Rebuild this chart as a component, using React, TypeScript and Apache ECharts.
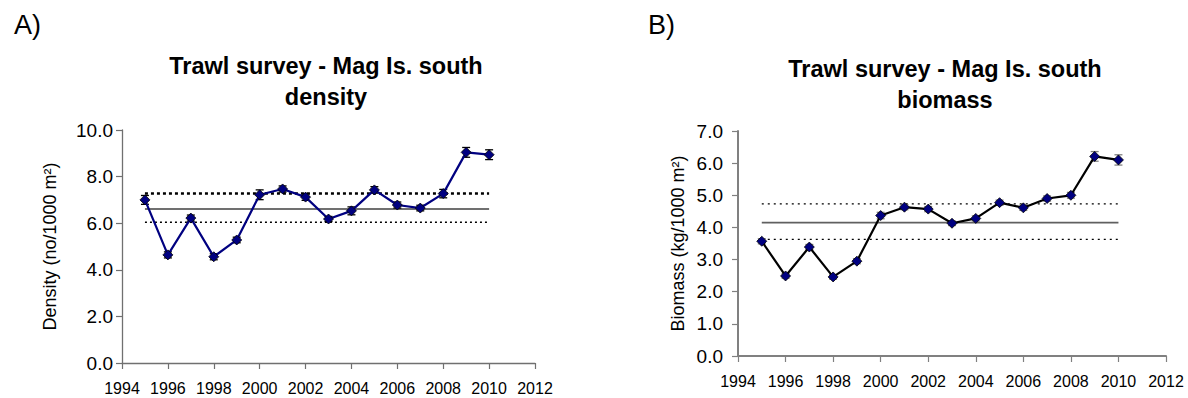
import React, { useEffect, useRef } from "react";
import * as echarts from "echarts";

const years = [1995, 1996, 1997, 1998, 1999, 2000, 2001, 2002, 2003, 2004, 2005, 2006, 2007, 2008, 2009, 2010];
const density = [7.0, 4.64, 6.22, 4.56, 5.28, 7.22, 7.47, 7.12, 6.18, 6.53, 7.43, 6.78, 6.65, 7.27, 9.04, 8.94];
const densityErr = [0.19, 0.13, 0.13, 0.13, 0.12, 0.21, 0.13, 0.14, 0.11, 0.17, 0.14, 0.13, 0.12, 0.18, 0.21, 0.21];
const biomass = [3.57, 2.49, 3.39, 2.46, 2.95, 4.37, 4.63, 4.57, 4.13, 4.28, 4.77, 4.61, 4.9, 5.0, 6.21, 6.1];
const biomassErr = [0.08, 0.07, 0.08, 0.07, 0.08, 0.1, 0.08, 0.08, 0.07, 0.08, 0.08, 0.08, 0.08, 0.09, 0.15, 0.16];
const densityRef = { mean: 6.61, upper: 7.27, lower: 6.04 };
const biomassRef = { mean: 4.15, upper: 4.73, lower: 3.63 };
const xTicks = { min: 1994, max: 2012, interval: 2 };

const FONT = "Liberation Sans, Arial, sans-serif";

function errBars(xs: number[], ys: number[], es: number[], color: string, grid: number) {
  return {
    type: "custom",
    xAxisIndex: grid,
    yAxisIndex: grid,
    z: 3,
    data: xs.map((x, i) => [x, ys[i] - es[i], ys[i] + es[i]]),
    renderItem: (params: any, api: any) => {
      const x = api.value(0);
      const lo = api.coord([x, api.value(1)]);
      const hi = api.coord([x, api.value(2)]);
      const w = 4;
      const style = { stroke: color, lineWidth: 1.3 };
      return {
        type: "group",
        children: [
          { type: "line", shape: { x1: lo[0], y1: lo[1], x2: hi[0], y2: hi[1] }, style },
          { type: "line", shape: { x1: lo[0] - w, y1: lo[1], x2: lo[0] + w, y2: lo[1] }, style },
          { type: "line", shape: { x1: hi[0] - w, y1: hi[1], x2: hi[0] + w, y2: hi[1] }, style },
        ],
      };
    },
  };
}

function refLine(v: number, grid: number, color: string, width: number, dash: any) {
  return {
    type: "line",
    xAxisIndex: grid,
    yAxisIndex: grid,
    data: [[years[0], v], [years[years.length - 1], v]],
    symbol: "none",
    z: 1,
    lineStyle: { color, width, type: dash },
  };
}

function xAxis(grid: number, axisColor: string, axisWidth: number) {
  return {
    type: "value",
    gridIndex: grid,
    min: xTicks.min,
    max: xTicks.max,
    interval: xTicks.interval,
    axisLine: { lineStyle: { color: axisColor, width: axisWidth } },
    axisTick: { show: true, length: 6, lineStyle: { color: axisColor, width: 1.2 } },
    axisLabel: { formatter: (v: number) => String(v), color: "#000", fontFamily: FONT, fontSize: 16, margin: 17 },
    splitLine: { show: false },
  };
}

function yAxis(grid: number, max: number, interval: number, name: string, nameGap: number, labelMargin: number, axisColor: string, axisWidth: number) {
  return {
    type: "value",
    gridIndex: grid,
    min: 0,
    max,
    interval,
    name,
    nameLocation: "middle",
    nameGap,
    nameTextStyle: { color: "#000", fontFamily: FONT, fontSize: 18 },
    axisLine: { show: true, lineStyle: { color: axisColor, width: axisWidth } },
    axisTick: { show: true, length: 6, lineStyle: { color: axisColor, width: 1.2 } },
    axisLabel: { formatter: (v: number) => v.toFixed(1), color: "#000", fontFamily: FONT, fontSize: 19, margin: labelMargin },
    splitLine: { show: false },
  };
}

export default function App() {
  const ref = useRef<HTMLDivElement>(null);
  useEffect(() => {
    document.body.style.margin = "0";
    const chart = echarts.init(ref.current!, null, { renderer: "svg" });
    const titleStyle = { color: "#000", fontFamily: FONT, fontSize: 23.5, fontWeight: "bold", lineHeight: 31, align: "center" };
    chart.setOption({
      animation: false,
      backgroundColor: "#fff",
      textStyle: { fontFamily: FONT },
      title: [
        { text: "A)", left: 9, top: 6, textStyle: { color: "#000", fontFamily: FONT, fontSize: 27, fontWeight: "normal" } },
        { text: "B)", left: 643, top: 6, textStyle: { color: "#000", fontFamily: FONT, fontSize: 27, fontWeight: "normal" } },
        { text: "Trawl survey - Mag Is. south\ndensity", left: 321, top: 45, textAlign: "center", textStyle: titleStyle },
        { text: "Trawl survey - Mag Is. south\nbiomass", left: 940, top: 48, textAlign: "center", textStyle: titleStyle },
      ],
      grid: [
        { left: 122, top: 130, width: 413, height: 233 },
        { left: 738, top: 131, width: 428, height: 225 },
      ],
      xAxis: [xAxis(0, "#707070", 1.3), xAxis(1, "#808080", 2)],
      yAxis: [
        yAxis(0, 10, 2, "Density (no/1000 m²)", 63, 9, "#707070", 1.3),
        yAxis(1, 7, 1, "Biomass (kg/1000 m²)", 51, 15, "#808080", 2),
      ],
      series: [
        refLine(densityRef.mean, 0, "#404040", 1.3, "solid"),
        refLine(densityRef.upper, 0, "#000", 2.5, [3, 3]),
        refLine(densityRef.lower, 0, "#000", 1.3, [2, 3]),
        refLine(biomassRef.mean, 1, "#606060", 1.7, "solid"),
        refLine(biomassRef.upper, 1, "#000", 1.2, [2, 4]),
        refLine(biomassRef.lower, 1, "#000", 1.2, [2, 4]),
        errBars(years, density, densityErr, "#000", 0),
        errBars(years, biomass, biomassErr, "#808080", 1),
        {
          type: "line",
          xAxisIndex: 0,
          yAxisIndex: 0,
          data: years.map((y, i) => [y, density[i]]),
          symbol: "diamond",
          symbolSize: 10,
          z: 4,
          lineStyle: { color: "#000080", width: 2.2 },
          itemStyle: { color: "#000080", borderColor: "#000", borderWidth: 0.8 },
        },
        {
          type: "line",
          xAxisIndex: 1,
          yAxisIndex: 1,
          data: years.map((y, i) => [y, biomass[i]]),
          symbol: "diamond",
          symbolSize: 10,
          z: 4,
          lineStyle: { color: "#000", width: 2.2 },
          itemStyle: { color: "#000080", borderColor: "#000", borderWidth: 0.8 },
        },
      ],
    });
    return () => chart.dispose();
  }, []);
  return <div ref={ref} style={{ width: 1188, height: 398 }} />;
}
